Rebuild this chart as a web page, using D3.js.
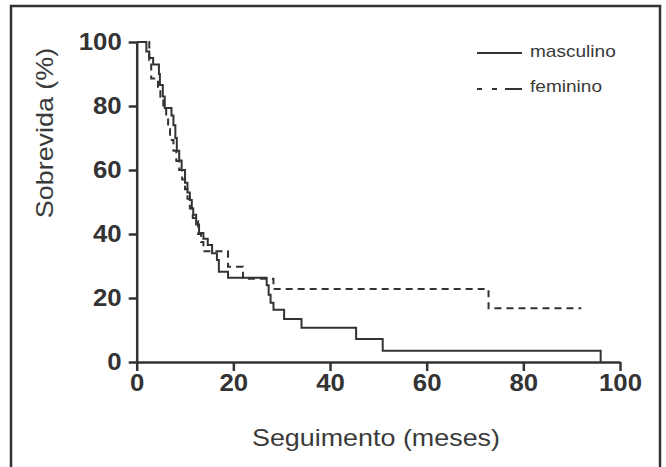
<!DOCTYPE html><html>
<head>
<meta charset="utf-8">
<style>
body { margin: 0; padding: 0; background-color: #ffffff; }
svg { display: block; }
.axis path, .axis line { stroke: #333; stroke-width: 2.5px; }
.axis text { font-family: "Liberation Sans", Arial, sans-serif; font-weight: bold; fill: #333; }
.curve { fill: none; stroke: #333; stroke-width: 2px; }
.title { font-family: "Liberation Sans", Arial, sans-serif; fill: #3a3a3a; }
</style>
</head>
<body>
<svg id="chart" width="666" height="467"></svg>
<script src="https://cdn.jsdelivr.net/npm/d3@7"></script>
<script>
// masculino: time of each step (months) and survival after it (%)
var mascTime = [0, 2.0, 2.6, 3.4, 4.6, 4.8, 5.4, 5.8, 7.2, 7.6, 8.0, 8.3, 8.8, 9.3, 10.0, 10.5, 11.0, 11.4, 11.7, 12.3, 12.9, 13.8, 14.7, 15.6, 16.6, 17.0, 18.9, 26.9, 27.3, 27.7, 28.3, 30.5, 34.1, 45.4, 50.9, 96.0];
var mascSurv = [100, 97, 95, 93, 90, 86.6, 83, 79.4, 77, 74, 70, 66, 63, 60, 56, 53, 50.6, 48, 46, 43, 40.3, 38.5, 36.6, 34, 31.9, 28.2, 26.3, 24, 21, 18.5, 16.3, 13.4, 10.7, 7.2, 3.5, 0];
var mascEnd = 96.0;

// feminino
var femTime = [0, 2.6, 3.0, 4.4, 4.9, 5.5, 6.1, 6.5, 6.9, 7.6, 8.2, 8.8, 9.4, 10.0, 10.5, 11.0, 11.6, 12.2, 12.7, 13.3, 13.8, 18.9, 22.0, 28.3, 72.8];
var femSurv = [100, 94.3, 88.6, 85.7, 82.9, 79.4, 76.2, 72.8, 69.4, 66, 62.8, 60, 57, 54, 51, 48, 45, 44, 40, 37.5, 34.6, 29.8, 26, 22.8, 16.8];
var femEnd = 92.0;

var xTicks = [0, 20, 40, 60, 80, 100];
var yTicks = [0, 20, 40, 60, 80, 100];
var legendNames = ["masculino", "feminino"];

var svg = d3.select("svg#chart");
var mLeft = 136.7, mTop = 42, mRight = 620, mBottom = 362;

// frame
svg.append("rect")
    .attr("x", 11).attr("y", 6).attr("width", 649).attr("height", 470)
    .attr("fill", "#fff").attr("stroke", "#333").attr("stroke-width", 2.5);

var x = d3.scaleLinear().domain([0, 100]).range([mLeft, mRight]);
var y = d3.scaleLinear().domain([0, 100]).range([mBottom, mTop]);

var xAxis = svg.append("g").attr("class", "axis")
    .attr("transform", "translate(0," + mBottom + ")")
    .call(d3.axisBottom(x).tickValues(xTicks).tickSize(9).tickSizeOuter(0).tickPadding(4));
xAxis.selectAll("text").style("font-size", "23px");

var yAxis = svg.append("g").attr("class", "axis")
    .attr("transform", "translate(" + mLeft + ",0)")
    .call(d3.axisLeft(y).tickValues(yTicks).tickSize(8).tickSizeOuter(0).tickPadding(7));
yAxis.selectAll("text").style("font-size", "23px");

function steps(times, surv, end) {
    var pts = times.map((t, i) => [t, surv[i]]);
    var last = pts[pts.length - 1];
    if (last[0] < end) pts.push([end, last[1]]);
    return pts;
}

var line = d3.line()
    .x(d => x(d[0]))
    .y(d => y(d[1]))
    .curve(d3.curveStepAfter);

svg.append("path").attr("class", "curve")
    .attr("d", line(steps(mascTime, mascSurv, mascEnd)));

svg.append("path").attr("class", "curve")
    .attr("stroke-dasharray", "7,5")
    .attr("d", line(steps(femTime, femSurv, femEnd)));

// axis titles
svg.append("text").attr("class", "title")
    .attr("x", 376).attr("y", 446)
    .attr("text-anchor", "middle").style("font-size", "24px")
    .text("Seguimento (meses)");

svg.append("text").attr("class", "title")
    .attr("transform", "translate(53,133) rotate(-90)")
    .attr("text-anchor", "middle").style("font-size", "24px")
    .text("Sobrevida (%)");

// legend
var lg = svg.append("g");
lg.append("line").attr("class", "curve")
    .attr("x1", 477).attr("x2", 522).attr("y1", 53).attr("y2", 53);
lg.append("line").attr("class", "curve")
    .attr("stroke-dasharray", "5,10,5,8,17")
    .attr("x1", 477).attr("x2", 522).attr("y1", 89).attr("y2", 89);
lg.selectAll("text.leg").data(legendNames).enter().append("text")
    .attr("class", "title leg")
    .attr("x", 530).attr("y", (d, i) => 57 + i * 35)
    .style("font-size", "17px")
    .text(d => d);

// the scanned figure is a little wider than tall: stretch the texts to match
svg.selectAll("text").each(function() {
    var w = this.getComputedTextLength();
    d3.select(this).attr("textLength", w * 1.12).attr("lengthAdjust", "spacingAndGlyphs");
});
</script>
</body>
</html>
